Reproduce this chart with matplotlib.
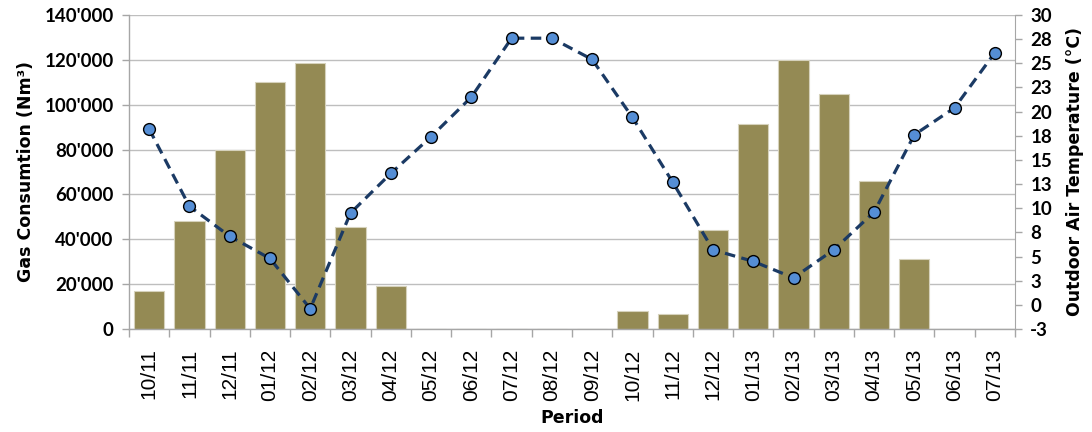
import math
import numpy as np
import matplotlib
matplotlib.use('Agg')
import matplotlib.pyplot as plt
from matplotlib.ticker import FixedLocator, FuncFormatter

# monthly gas consumption and mean outdoor air temperature
periods = ['10/11', '11/11', '12/11', '01/12', '02/12', '03/12', '04/12', '05/12',
           '06/12', '07/12', '08/12', '09/12', '10/12', '11/12', '12/12', '01/13',
           '02/13', '03/13', '04/13', '05/13', '06/13', '07/13']
gas = [17000, 48000, 80000, 110000, 118500, 45500, 19000, 0, 0, 0, 0, 0,
       8000, 6500, 44000, 91500, 120000, 105000, 66000, 31000, 0, 0]
temp = [18.2, 10.2, 7.1, 4.8, -0.4, 9.5, 13.6, 17.4, 21.5, 27.6, 27.6, 25.4,
        19.4, 12.7, 5.7, 4.5, 2.8, 5.7, 9.6, 17.6, 20.4, 26.1]

gas_ticks = np.arange(0, 140001, 20000)
temp_ticks = np.arange(30, -2.6, -2.5)

bar_col = '#948A54'
line_col = '#1B3A64'
marker_col = '#558ED5'
axis_col = '#A6A6A6'


def excel_round(v):
    # round half away from zero like the spreadsheet does
    return int(math.copysign(math.floor(abs(v) + 0.5), v))


fig = plt.figure(figsize=(10.92, 4.32), dpi=100)
ax = fig.add_axes([129 / 1092, 103 / 432, 886 / 1092, 314 / 432])
x = np.arange(len(periods))

ax.bar(x, gas, width=0.75, color=bar_col, edgecolor='#D6D2BC', linewidth=0.8, zorder=2)
ax.set_xlim(-0.5, len(periods) - 0.5)
ax.set_ylim(0, 140000)
ax.set_yticks(gas_ticks)
ax.yaxis.set_major_formatter(FuncFormatter(lambda v, p: f"{v:,.0f}".replace(',', "'")))
ax.yaxis.grid(True, color='#BEBEBE', linewidth=1.0)
ax.set_axisbelow(True)

ax.set_xticks(x)
ax.set_xticklabels(periods, rotation=90, fontsize=15, family='Liberation Sans')
ax.xaxis.set_minor_locator(FixedLocator(np.arange(-0.5, len(periods), 1.0)))
ax.tick_params(axis='x', which='major', length=0, pad=14)
ax.tick_params(axis='x', which='minor', length=6, color=axis_col, width=1)
ax.tick_params(axis='y', length=5, color=axis_col, width=1, labelsize=13.5, pad=6)
for lab in ax.get_yticklabels():
    lab.set_family('Lato')
    lab.set_fontweight('bold')

for side in ['top', 'right']:
    ax.spines[side].set_visible(False)
for side in ['left', 'bottom']:
    ax.spines[side].set_color(axis_col)
    ax.spines[side].set_linewidth(1.0)

ax.set_ylabel('Gas Consumtion (Nm³)', fontsize=12.5, fontweight='bold',
              family='DejaVu Sans', labelpad=7)
ax.set_xlabel('Period', fontsize=12.5, fontweight='bold', family='DejaVu Sans', labelpad=6)

# temperature on the secondary axis
ax2 = ax.twinx()
ax2.plot(x, temp, color=line_col, linewidth=2.3, dashes=[3.3, 2.0],
         marker='o', markersize=8.5, markerfacecolor=marker_col,
         markeredgecolor='black', markeredgewidth=1.0, zorder=3)
ax2.set_ylim(-2.5, 30)
ax2.set_yticks(temp_ticks)
ax2.yaxis.set_major_formatter(FuncFormatter(lambda v, p: str(excel_round(v))))
ax2.tick_params(axis='y', length=5, color=axis_col, width=1, labelsize=13.5, pad=6)
for lab in ax2.get_yticklabels():
    lab.set_family('Lato')
    lab.set_fontweight('bold')
for side in ['top', 'left', 'bottom']:
    ax2.spines[side].set_visible(False)
ax2.spines['right'].set_color(axis_col)
ax2.set_ylabel('Outdoor Air Temperature (°C)', fontsize=12.5, fontweight='bold',
               family='DejaVu Sans', labelpad=10)

plt.savefig('out.png', dpi=100)
